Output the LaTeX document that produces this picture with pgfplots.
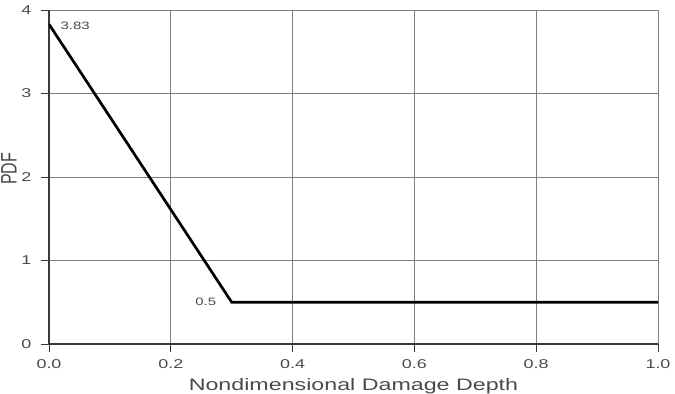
\documentclass[border=0pt]{standalone}
\usepackage{fontspec}
\setmainfont{Liberation Sans}
\newfontfamily\widefont[FakeStretch=1.4]{Liberation Sans}
\usepackage{pgfplots}
\pgfplotsset{compat=1.18}
\definecolor{txt}{HTML}{4A4A4A}
\definecolor{gridc}{HTML}{7E7E7E}
\definecolor{axc}{HTML}{3A3A3A}
\begin{document}
\begin{tikzpicture}
\begin{axis}[name=ax, scale only axis, width=609pt, height=334pt,
  xmin=0, xmax=1, ymin=0, ymax=4,
  xtick={0,0.2,0.4,0.6,0.8,1.0}, ytick={0,1,2,3,4},
  /pgf/number format/assume math mode=true,
  xticklabel style={/pgf/number format/fixed, /pgf/number format/fixed zerofill, /pgf/number format/precision=1, yshift=-4pt},
  yticklabel style={xshift=-6pt},
  tick label style={font=\widefont\fontsize{12.8}{14}\selectfont, text=txt},
  axis x line*=bottom, axis y line*=left,
  axis line style={axc, line width=1.1pt, -},
  grid=major, grid style={gridc, line width=0.8pt},
  tick style={axc, line width=0.9pt},
  tick align=outside, major tick length=8pt,
  xlabel={Nondimensional Damage Depth},
  xlabel style={font=\widefont\fontsize{16.6}{18}\selectfont, text=txt, at={(axis description cs:0.5,0)}, anchor=center, yshift=-42pt},
  ylabel={\scalebox{1}[1.4]{PDF}},
  ylabel style={font=\fontsize{16}{18}\selectfont, text=txt, at={(axis description cs:0,0.5)}, anchor=center, xshift=8pt, yshift=40pt},
]
\addplot[black, line width=2.7pt, line join=miter] coordinates {(0,3.83) (0.3,0.5) (1,0.5)};
\node[anchor=west, font=\widefont\fontsize{10.7}{12}\selectfont, text=txt, xshift=8pt, yshift=-2pt] at (axis cs:0,3.83) {3.83};
\node[anchor=east, font=\widefont\fontsize{10.7}{12}\selectfont, text=txt, xshift=-12pt] at (axis cs:0.3,0.5) {0.5};
\end{axis}
\pgfresetboundingbox
\path ([xshift=-49pt,yshift=-50pt]ax.south west) rectangle ([xshift=17pt,yshift=10pt]ax.north east);
\end{tikzpicture}
\end{document}
